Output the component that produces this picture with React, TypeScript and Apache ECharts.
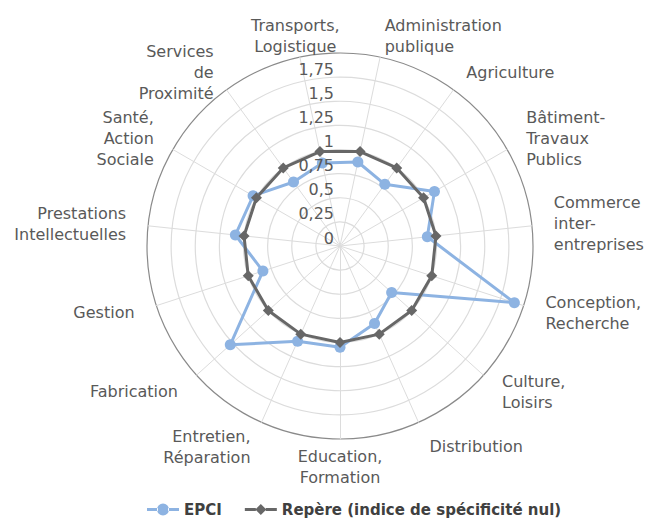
import React, { useEffect, useRef } from 'react';
import * as echarts from 'echarts';

// Categories listed clockwise, starting at the top-left spoke
const categories = [
  'Transports,\nLogistique',
  'Administration\npublique',
  'Agriculture',
  'Bâtiment-\nTravaux\nPublics',
  'Commerce\ninter-\nentreprises',
  'Conception,\nRecherche',
  'Culture,\nLoisirs',
  'Distribution',
  'Education,\nFormation',
  'Entretien,\nRéparation',
  'Fabrication',
  'Gestion',
  'Prestations\nIntellectuelles',
  'Santé,\nAction\nSociale',
  'Services\nde\nProximité',
];

const epciValues = [0.88, 0.89, 0.79, 1.13, 0.91, 1.9, 0.72, 0.88, 1.05, 1.08, 1.53, 0.84, 1.09, 1.04, 0.82];
const repereValues = [1, 1, 1, 1, 1, 1, 1, 1, 1, 1, 1, 1, 1, 1, 1];

const seriesNames = ['EPCI', 'Repère (indice de spécificité nul)'];
const axisMin = 0;
const axisMax = 2;
const axisInterval = 0.25;

const FONT = 'DejaVu Sans';
const BLUE = '#8db3e2';
const GREY = '#676767';
const START_ANGLE = 102;
const NAME_GAP = 22;

export default function App() {
  const ref = useRef<HTMLDivElement>(null);

  useEffect(() => {
    if (!ref.current) return;
    const chart = echarts.init(ref.current, null, { renderer: 'svg' });

    // ECharts lays radar indicators out counter-clockwise: reorder so the picture runs clockwise
    const n = categories.length;
    const order = [0];
    for (let i = n - 1; i >= 1; i--) order.push(i);
    const reorder = (arr: number[]) => order.map((i) => arr[i]);

    const indicator = order.map((i) => {
      // clockwise angle of the spoke from the top (degrees)
      const thetaDeg = (i * 360) / n - (START_ANGLE - 90);
      const down = Math.max(0, -Math.cos((thetaDeg * Math.PI) / 180));
      const ind: any = {
        name: categories[i],
        min: axisMin,
        max: axisMax,
        nameGap: NAME_GAP + Math.round(6 * down * down),
      };
      if (i === 0) ind.nameTextStyle = { align: 'center' };
      if (i === 8) ind.nameTextStyle = { verticalAlign: 'middle' };
      return ind;
    });

    const ringCount = Math.round((axisMax - axisMin) / axisInterval) + 1;
    const ringColors: string[] = [];
    for (let k = 0; k < ringCount; k++) ringColors.push(k === ringCount - 1 ? '#8a8a8a' : '#dcdcdc');

    const option: any = {
      animation: false,
      backgroundColor: '#ffffff',
      textStyle: { fontFamily: FONT },
      legend: {
        left: 142,
        top: 497,
        itemWidth: 32,
        itemHeight: 12,
        itemGap: 23,
        textStyle: { fontFamily: FONT, fontSize: 15, fontWeight: 'bold', color: '#404040' },
        data: [
          {
            name: seriesNames[0],
            icon: 'path://M0,4.5 H11 V7.5 H0 Z M21,4.5 H32 V7.5 H21 Z M10,6 A6,6 0 1,0 22,6 A6,6 0 1,0 10,6 Z',
          },
          {
            name: seriesNames[1],
            icon: 'path://M0,4.5 H11 V7.5 H0 Z M21,4.5 H32 V7.5 H21 Z M16,0.5 L21.5,6 L16,11.5 L10.5,6 Z',
          },
        ],
      },
      radar: {
        center: [340, 246],
        radius: 193,
        startAngle: START_ANGLE,
        splitNumber: Math.round((axisMax - axisMin) / axisInterval),
        shape: 'circle',
        axisNameGap: NAME_GAP,
        axisName: { color: '#595959', fontSize: 16, fontFamily: FONT, lineHeight: 21 },
        axisLine: { lineStyle: { color: '#dcdcdc', width: 1 } },
        splitLine: { lineStyle: { color: ringColors, width: 1.2 } },
        splitArea: { show: false },
        axisLabel: { show: false },
        axisTick: { show: false },
        indicator,
      },
      polar: { center: [340, 246], radius: 193 },
      angleAxis: {
        type: 'value',
        min: 0,
        max: 360,
        startAngle: 90,
        show: false,
      },
      radiusAxis: {
        type: 'value',
        min: axisMin,
        max: axisMax,
        interval: axisInterval,
        z: 10,
        axisLine: { show: false },
        axisTick: { show: false },
        splitLine: { show: false },
        axisLabel: {
          show: true,
          fontFamily: FONT,
          fontSize: 16,
          color: '#595959',
          lineHeight: 16,
          verticalAlign: 'bottom',
          align: 'right',
          margin: 6,
          formatter: (v: number) => (v >= axisMax ? '' : String(v).replace('.', ',')),
        },
      },
      series: [
        {
          type: 'radar',
          data: [
            {
              name: seriesNames[0],
              value: reorder(epciValues),
              symbol: 'circle',
              symbolSize: 11,
              lineStyle: { color: BLUE, width: 3 },
              itemStyle: { color: BLUE },
            },
            {
              name: seriesNames[1],
              value: reorder(repereValues),
              symbol: 'diamond',
              symbolSize: 11,
              lineStyle: { color: GREY, width: 3 },
              itemStyle: { color: GREY },
            },
          ],
        },
      ],
    };

    chart.setOption(option);
    return () => chart.dispose();
  }, []);

  return (
    <div
      ref={ref}
      style={{ position: 'fixed', left: 0, top: 0, width: 650, height: 523 }}
    />
  );
}
